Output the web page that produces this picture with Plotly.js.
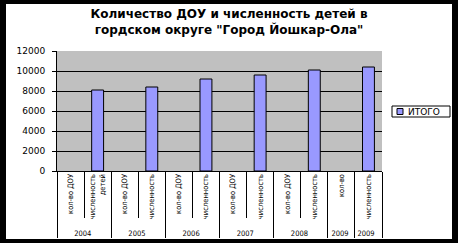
<!DOCTYPE html>
<html>
<head>
<meta charset="utf-8">
<script src="https://cdn.plot.ly/plotly-3.0.1.min.js"></script>
<style>
html,body{margin:0;padding:0;background:#000;width:458px;height:243px;overflow:hidden;}
#chart{position:absolute;left:6px;top:4px;width:446px;height:235px;background:#fff;}
</style>
</head>
<body>
<div id="chart"></div>
<script>
var years = ["2004","2004","2005","2005","2006","2006","2007","2007","2008","2008","2009","2009 "];
var subcats = ["кол-во ДОУ","численность<br>детей","кол-во ДОУ","численность","кол-во ДОУ","численность","кол-во ДОУ","численность","кол-во ДОУ","численность","кол-во","численность"];
var values = [null,8100,null,8400,null,9200,null,9600,null,10100,null,10400];
var seriesName = "ИТОГО";
var titleText = "Количество ДОУ и численность детей в<br>гордском округе \"Город Йошкар-Ола\"";
var yTicks = [0,2000,4000,6000,8000,10000,12000];

var FONT = "DejaVu Sans, Liberation Sans, Arial, sans-serif";
var NARROW = "Liberation Sans Narrow, DejaVu Sans Condensed, Liberation Sans, sans-serif";
var W = 446, H = 235;
var m = {l:51, r:70, t:47, b:68};
var pw = W - m.l - m.r, ph = H - m.t - m.b;
function px(x){ return (x - m.l)/pw; }
function py(y){ return (H - m.b - y)/ph; }

var trace = {
  type: "bar",
  x: [years, subcats],
  y: values,
  name: seriesName,
  marker: {color: "#9999ff", line: {color: "#000", width: 1}},
  showlegend: false,
  hoverinfo: "skip"
};

var layout = {
  width: W, height: H,
  margin: m,
  paper_bgcolor: "#fff",
  plot_bgcolor: "#c0c0c0",
  bargap: 0.56,
  font: {family: FONT, size: 8, color: "#000"},
  title: {
    text: titleText,
    font: {family: FONT, size: 12, color: "#000", weight: "bold"},
    x: 0.5, xanchor: "center",
    y: 1 - 14/H, yanchor: "top"
  },
  xaxis: {
    type: "multicategory",
    tickangle: -90,
    tickfont: {family: NARROW, size: 7.5, color: "#000"},
    showline: true, linecolor: "#000", linewidth: 1,
    ticks: "outside", tickson: "boundaries", ticklen: 46, tickcolor: "#000",
    ticklabelstandoff: -1,
    showdividers: true, dividercolor: "#000", dividerwidth: 1,
    showgrid: false,
    fixedrange: true
  },
  yaxis: {
    range: [0, 12000],
    tickvals: yTicks,
    ticktext: yTicks.map(String),
    tickfont: {family: FONT, size: 9, color: "#000"},
    showline: true, linecolor: "#000", linewidth: 1,
    ticks: "outside", ticklen: 4, tickcolor: "#000",
    ticklabelstandoff: 5,
    showgrid: true, gridcolor: "#000", gridwidth: 1,
    zeroline: false,
    fixedrange: true
  },
  shapes: [
    {type: "rect", xref: "paper", yref: "paper",
     x0: px(386), x1: px(444), y0: py(113), y1: py(102),
     line: {color: "#000", width: 1}, fillcolor: "#fff"},
    {type: "rect", xref: "paper", yref: "paper",
     x0: px(391), x1: px(397), y0: py(110.5), y1: py(104.5),
     line: {color: "#000", width: 1}, fillcolor: "#9999ff"}
  ],
  annotations: [
    {xref: "paper", yref: "paper", x: px(400), y: py(107.5),
     xanchor: "left", yanchor: "middle", showarrow: false,
     text: seriesName, font: {family: FONT, size: 9, color: "#000"}}
  ]
};

Plotly.newPlot("chart", [trace], layout, {displayModeBar: false, staticPlot: true});
</script>
</body>
</html>
